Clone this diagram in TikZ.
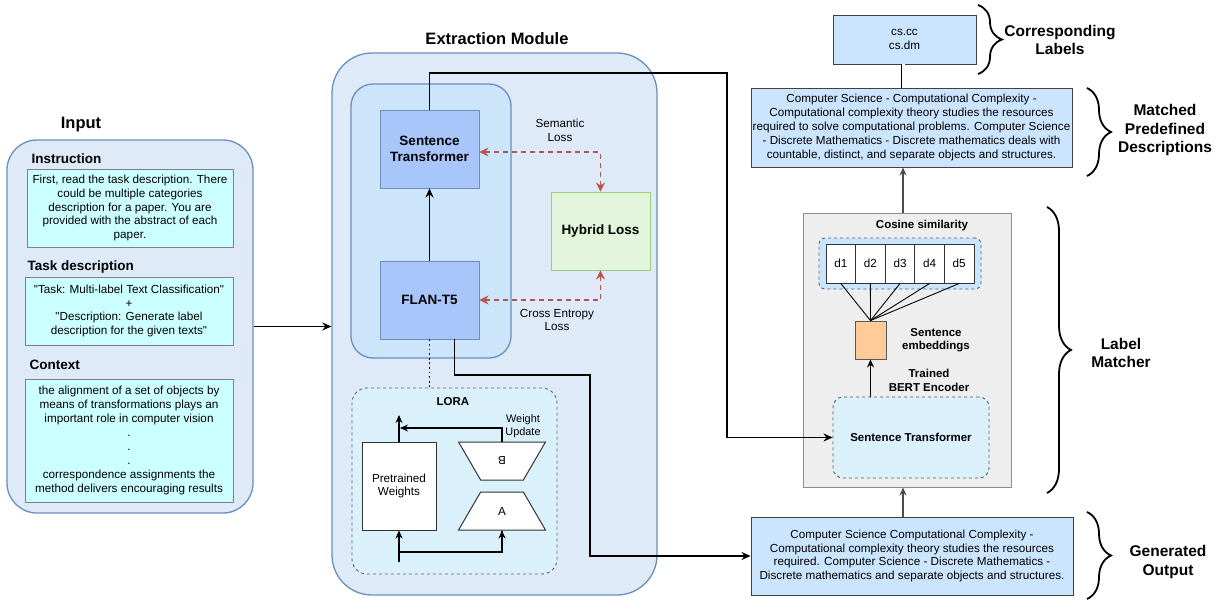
\documentclass[tikz,border=0pt]{standalone}
\usepackage{fontspec}
\setmainfont{Liberation Sans}
\usepackage{xcolor}
\usepackage{tikz}
\usetikzlibrary{arrows.meta,positioning,shapes.geometric,decorations.pathreplacing,calc}
\definecolor{grpfill}{HTML}{DFEAF8}
\definecolor{grpline}{HTML}{6C8EBF}
\definecolor{innerfill}{HTML}{CCE5FB}
\definecolor{modfill}{HTML}{A9C6FA}
\definecolor{cyanfill}{HTML}{CCFFFF}
\definecolor{hybfill}{HTML}{E2F5DC}
\definecolor{hybline}{HTML}{97D077}
\definecolor{lorafill}{HTML}{DAF1FC}
\definecolor{lmfill}{HTML}{EEEEEE}
\definecolor{embfill}{HTML}{FFCC99}
\definecolor{outfill}{HTML}{CCE5FF}
\definecolor{lossred}{HTML}{B85450}
\newcommand{\bodyfs}{\fontsize{11.7}{13.9}\selectfont}
\newcommand{\headfs}{\fontsize{13.5}{16.6}\selectfont\bfseries}
\newcommand{\titlefs}{\fontsize{16.5}{19}\selectfont\bfseries}
\newcommand{\sidefs}{\fontsize{15.5}{18.4}\selectfont\bfseries}
\newcommand{\notefs}{\fontsize{11.5}{12.5}\selectfont\bfseries}
\newcommand{\q}{\textquotedbl}

\begin{document}
\begin{tikzpicture}[x=1pt,y=-1pt,
  grp/.style={draw=grpline,fill=grpfill,line width=1.3pt},
  cbox/.style={draw=gray,fill=cyanfill,align=center,font=\bodyfs,inner sep=1pt,line width=0.9pt},
  head/.style={anchor=west,font=\headfs},
  mbox/.style={draw=grpline,fill=modfill,align=center,font=\headfs,
               minimum width=99,minimum height=78,line width=0.9pt},
  lbl/.style={align=center,font=\bodyfs},
  wbox/.style={draw=black!80,fill=white,line width=1pt,font=\bodyfs,align=center},
  trap/.style={trapezium,trapezium stretches=true,trapezium angle=63,draw=black!80,
               fill=white,line width=1pt,minimum width=87,minimum height=38,font=\bodyfs},
  obox/.style={draw=black!75,fill=outfill,align=center,font=\bodyfs,inner sep=1pt,line width=0.9pt},
  dcell/.style={draw=black!80,fill=white,minimum width=29.6,minimum height=39,font=\bodyfs,line width=0.9pt},
  note/.style={align=center,font=\notefs},
  side/.style={align=center,font=\sidefs},
  brc/.style={decorate,decoration={brace,amplitude=24pt},line width=1.8pt},
  arr/.style={-{Stealth[length=9pt,width=8pt]},line width=1.6pt},
  tarr/.style={-{Stealth[length=8pt,width=7pt]},line width=1.1pt},
  lossarr/.style={{Stealth[length=9pt,width=9pt]}-{Stealth[length=9pt,width=9pt]},
                  draw=lossred,line width=1.6pt,dash pattern=on 5pt off 4pt}]
\useasboundingbox (0,0) rectangle (1220,602);

% input
\node[grp,rounded corners=30,minimum width=246,minimum height=373] (input) at (130,326.5) {};
\node[font=\titlefs] (inputttl) at (81,125) {Input};
\node[head] (instrttl) at (28,159) {Instruction};
\node[cbox,minimum width=206,minimum height=78] (instr) at (130,208)
  {First, read the task description. There\\could be multiple categories\\
   description for a paper. You are\\provided with the abstract of each\\paper.};
\node[head] (taskttl) at (24,267) {Task description};
\node[cbox,minimum width=208,minimum height=68] (task) at (129,311)
  {\q Task: Multi-label Text Classification\q\\+\\\q Description: Generate label\\
   description for the given texts\q};
\node[head] (ctxttl) at (26,365) {Context};
\node[cbox,minimum width=208,minimum height=123] (ctx) at (129,440.5)
  {the alignment of a set of objects by\\means of transformations plays an\\
   important role in computer vision\\.\\.\\.\\correspondence assignments the\\
   method delivers encouraging results};

% extraction module
\node[grp,rounded corners=40,minimum width=325,minimum height=542] (extr) at (494.5,324) {};
\node[font=\titlefs] (extrttl) at (497,39) {Extraction Module};
\node[draw=grpline,fill=innerfill,line width=1.3pt,rounded corners=22,
      minimum width=160,minimum height=274] (inner) at (431,221) {};
\node[mbox] (st) at (429.5,149) {Sentence\\Transformer};
\node[mbox] (flan) at (429.5,300) {FLAN-T5};
\node[mbox,draw=hybline,fill=hybfill] (hybrid) at (600.5,231) {Hybrid Loss};
\node[lbl] (semloss) at (560,130.5) {Semantic\\Loss};
\node[lbl] (celoss) at (557,320) {Cross Entropy\\Loss};
\draw[arr] (flan) -- (st);
\draw[lossarr] ([yshift=-3pt]st.east) -| (hybrid.north);
\draw[lossarr] (flan.east) -| (hybrid.south);

% lora
\node[draw=black!60,dashed,fill=lorafill,line width=0.9pt,rounded corners=15,
      minimum width=205,minimum height=186] (lora) at (454.5,481) {};
\node[font=\notefs] (lorattl) at (453,402) {LORA};
\node[wbox,minimum width=74,minimum height=88] (pw) at (399,486) {Pretrained\\Weights};
\node[trap,shape border rotate=180] (mb) at (502,461) {\rotatebox{180}{B}};
\node[trap] (ma) at (502,511) {A};
\node[lbl,font=\fontsize{10.9}{13}\selectfont] (wupd) at (523,426.5) {Weight\\Update};
\coordinate (wout) at (399,415);
\coordinate (wjoin) at (400,428);
\coordinate (win) at (399,562);
\coordinate (wmid) at (399,552);
\draw[tarr] (pw.north) -- (wout);
\draw[tarr] (mb.north) |- (wjoin);
\draw[tarr] (win) -- (pw.south);
\draw[tarr,-] (wmid) -| (ma.south);
\draw[tarr] ($(ma.south)+(0,22)$) -- (ma.south);
\draw[line width=1.8pt,dash pattern=on 1.8pt off 2.8pt] (flan.south) -- (flan.south |- lora.north);

% label matcher
\node[draw=black!45,fill=lmfill,line width=1pt,minimum width=208,minimum height=274] (lm) at (907,350) {};
\node[note] (costtl) at (922,226) {Cosine similarity};
\node[draw=grpline!70!black,dashed,fill=outfill,line width=0.9pt,rounded corners=6,
      minimum width=162,minimum height=51] (dgrp) at (900,263.5) {};
\node[draw=black!65,fill=embfill,line width=0.9pt,minimum width=31,minimum height=38] (emb) at (870.5,340) {};
\foreach \i in {1,...,5} {
  \node[dcell] (d\i) at ({811.2+29.6*\i},263.5) {d\i};
  \draw[line width=0.9pt] (d\i.south) -- (emb.north);
}
\node[note] (embttl) at (936,340) {Sentence\\embeddings};
\node[note,font=\fontsize{11.5}{14.5}\selectfont\bfseries] (bert) at (929,380.5) {Trained\\BERT Encoder};
\node[draw=black!65,dashed,fill=lorafill,line width=0.9pt,rounded corners=10,
      minimum width=156,minimum height=81,font=\notefs] (lmst) at (911,437.5) {Sentence Transformer};
\draw[tarr] (lmst.north -| emb.south) -- (emb.south);

% outputs
\node[obox,minimum width=143,minimum height=49] (cl) at (904.5,39.5) {cs.cc\\cs.dm};
\node[obox,minimum width=321,minimum height=79] (mpd) at (911.5,127.5)
  {Computer Science - Computational Complexity -\\
   Computational complexity theory studies the resources\\
   required to solve computational problems. Computer Science\\
   - Discrete Mathematics - Discrete mathematics deals with\\
   countable, distinct, and separate objects and structures.};
\node[obox,minimum width=322,minimum height=78] (go) at (912,556)
  {Computer Science Computational Complexity -\\
   Computational complexity theory studies the resources\\
   required. Computer Science - Discrete Mathematics -\\
   Discrete mathematics and separate objects and structures.};
\draw[double,double distance=3pt,line width=0.9pt] (cl.south -| 903,0) -- (mpd.north -| 903,0);
\draw[tarr,black!70] (lm.north -| 903,0) -- (mpd.south -| 903,0);
\draw[tarr,black!70] (go.north -| 903,0) -- (lm.south -| 903,0);

% long connectors
\coordinate (bendA) at (727,73);
\coordinate (bendB) at (590,375);
\draw[arr] (input.east) -- (extr.west |- input.east);
\draw[arr] (st.north) |- (bendA) |- (lmst.west);
\draw[arr] ([xshift=25pt]flan.south) |- (bendB) |- (go.west);

% braces
\draw[brc] (978,5) -- (978,74);
\draw[brc] (1087,88) -- (1087,176);
\draw[brc] (1047,207) -- (1047,493);
\draw[brc] (1087,512) -- (1087,599);
\node[side] (cltag) at (1060,40) {Corresponding\\Labels};
\node[side] (mpdtag) at (1165,130) {Matched\\Predefined\\Descriptions};
\node[side] (lmtag) at (1121,353) {Label\\Matcher};
\node[side] (gotag) at (1168,562) {Generated\\Output};
\end{tikzpicture}
\end{document}
